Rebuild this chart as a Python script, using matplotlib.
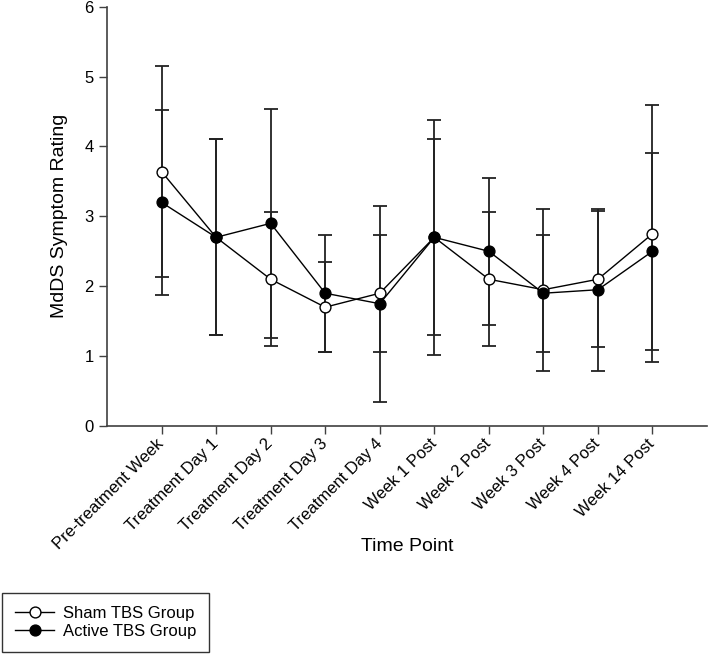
import matplotlib
matplotlib.use("Agg")
import matplotlib.pyplot as plt
import numpy as np

plt.rcParams['font.family'] = ['Liberation Sans', 'DejaVu Sans']

# time points
labels = ['Pre-treatment Week', 'Treatment Day 1', 'Treatment Day 2', 'Treatment Day 3',
          'Treatment Day 4', 'Week 1 Post', 'Week 2 Post', 'Week 3 Post',
          'Week 4 Post', 'Week 14 Post']

# mean symptom rating and error (+/-) for each group
sham_mean = [3.64, 2.70, 2.10, 1.70, 1.90, 2.70, 2.10, 1.95, 2.10, 2.75]
sham_err = [1.51, 1.40, 0.96, 0.64, 0.84, 1.68, 0.96, 1.16, 0.97, 1.84]
active_mean = [3.20, 2.70, 2.90, 1.90, 1.75, 2.70, 2.50, 1.90, 1.95, 2.50]
active_err = [1.32, 1.40, 1.64, 0.84, 1.40, 1.40, 1.05, 0.84, 1.16, 1.41]

x = np.arange(1, len(labels) + 1)

fig = plt.figure(figsize=(7.08, 6.54), dpi=100)
ax = fig.add_axes([107/708, 1 - 426/654, 600/708, (426 - 6.7)/654])

# error bars first, then the lines with markers on top
ekw = dict(fmt='none', ecolor='#222222', elinewidth=1.3, capsize=4.7, capthick=1.3, zorder=2)
ax.errorbar(x, sham_mean, yerr=sham_err, **ekw)
ax.errorbar(x, active_mean, yerr=active_err, **ekw)

ax.plot(x, sham_mean, color='black', lw=1.0, marker='o', ms=7.8, mfc='white',
        mec='black', mew=1.0, label='Sham TBS Group', zorder=3)
ax.plot(x, active_mean, color='black', lw=1.0, marker='o', ms=7.8, mfc='black',
        mec='black', mew=1.0, label='Active TBS Group', zorder=4)

ax.set_xlim(0, 11)
ax.set_ylim(0, 6)
ax.set_yticks(range(0, 7))
ax.set_xticks(x)
ax.set_xticklabels(labels, rotation=45, ha='right', va='center', rotation_mode='anchor', fontsize=12)
ax.tick_params(axis='y', labelsize=12, direction='out', length=6, width=1, color='#404040')
ax.tick_params(axis='x', direction='out', length=6, width=1, color='#404040', pad=5)

for s in ['top', 'right']:
    ax.spines[s].set_visible(False)
for s in ['left', 'bottom']:
    ax.spines[s].set_color('#404040')
    ax.spines[s].set_linewidth(1.2)

ax.set_ylabel('MdDS Symptom Rating', fontsize=14, labelpad=12)
ax.set_xlabel('Time Point', fontsize=14)
ax.xaxis.set_label_coords(0.5, -0.268)

# legend box sits in the lower left corner of the figure
leg = fig.legend(loc='lower left', bbox_to_anchor=(2/708, 2.5/654), fontsize=12,
                 frameon=True, fancybox=False, edgecolor='black', borderaxespad=0,
                 handlelength=2.4, handletextpad=0.5, labelspacing=0.2,
                 borderpad=0.75)
leg.get_frame().set_linewidth(1.0)

fig.savefig('out.png', dpi=100)
